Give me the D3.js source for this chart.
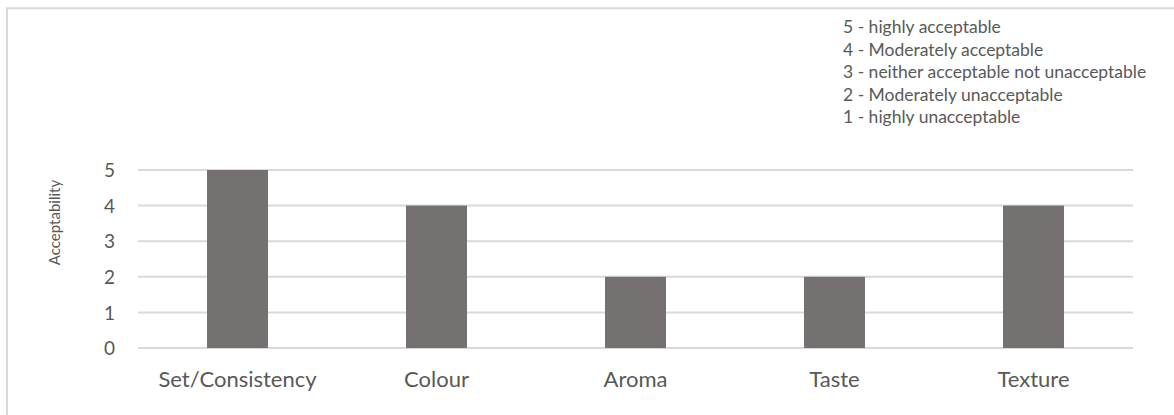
<!DOCTYPE html>
<html>
<head>
<meta charset="utf-8">
<script src="https://cdn.jsdelivr.net/npm/d3@7"></script>
<style>
  html, body { margin: 0; padding: 0; background: #ffffff; }
  svg { display: block; }
  text { font-family: Lato, "Open Sans", sans-serif; fill: #595959; }
</style>
</head>
<body>
<svg id="chart" width="1174" height="415"></svg>
<script>
// Sensory attributes and their acceptability scores
const categories = ["Set/Consistency", "Colour", "Aroma", "Taste", "Texture"];
const scores = [5, 4, 2, 2, 4];
const yTicks = [0, 1, 2, 3, 4, 5];
const scaleNotes = [
  "5 - highly acceptable",
  "4 - Moderately acceptable",
  "3 - neither acceptable not unacceptable",
  "2 - Moderately unacceptable",
  "1 - highly unacceptable"
];

const svg = d3.select("#chart");
const W = 1174, H = 415;
const plot = { left: 138, right: 1133, top: 170, bottom: 348 };

// Chart area frame
svg.append("rect")
  .attr("x", 7).attr("y", 8.3)
  .attr("width", 1180).attr("height", 420)
  .attr("fill", "none")
  .attr("stroke", "#d9d9d9")
  .attr("stroke-width", 2);

const x = d3.scaleBand()
  .domain(categories)
  .range([plot.left, plot.right])
  .paddingInner(0.6935)
  .paddingOuter(0.6935 / 2);

const y = d3.scaleLinear()
  .domain([0, 5])
  .range([plot.bottom, plot.top]);

// Horizontal gridlines
svg.append("g")
  .selectAll("line")
  .data(yTicks)
  .join("line")
  .attr("x1", plot.left).attr("x2", plot.right)
  .attr("y1", d => y(d)).attr("y2", d => y(d))
  .attr("stroke", "#d9d9d9")
  .attr("stroke-width", 2);

// Value axis labels
const yAxis = d3.axisLeft(y).tickValues(yTicks).tickSize(0).tickPadding(0).tickFormat(d3.format("d"));
const yAxisG = svg.append("g")
  .attr("transform", `translate(115,0)`)
  .call(yAxis);
yAxisG.select(".domain").remove();
yAxisG.selectAll("text")
  .attr("font-size", 19)
  .attr("dy", "0.35em")
  .style("fill", "#595959");

// Bars
svg.append("g")
  .selectAll("rect")
  .data(categories.map((c, i) => ({ c, v: scores[i] })))
  .join("rect")
  .attr("x", d => x(d.c))
  .attr("y", d => y(d.v))
  .attr("width", x.bandwidth())
  .attr("height", d => y(0) - y(d.v))
  .attr("fill", "#767171");

// Category axis labels
const xAxis = d3.axisBottom(x).tickSize(0).tickPadding(0);
const xAxisG = svg.append("g")
  .attr("transform", `translate(0,387)`)
  .call(xAxis);
xAxisG.select(".domain").remove();
xAxisG.selectAll("text")
  .attr("y", 0)
  .attr("dy", 0)
  .attr("font-size", 22)
  .style("fill", "#595959");

// Value axis title
svg.append("text")
  .attr("transform", "translate(60,222.5) rotate(-90)")
  .attr("text-anchor", "middle")
  .attr("font-size", 15)
  .text("Acceptability");

// Rating scale key
svg.append("g")
  .selectAll("text")
  .data(scaleNotes)
  .join("text")
  .attr("x", 843)
  .attr("y", (d, i) => 33 + i * 22.5)
  .attr("font-size", 17.5)
  .text(d => d);
</script>
</body>
</html>
